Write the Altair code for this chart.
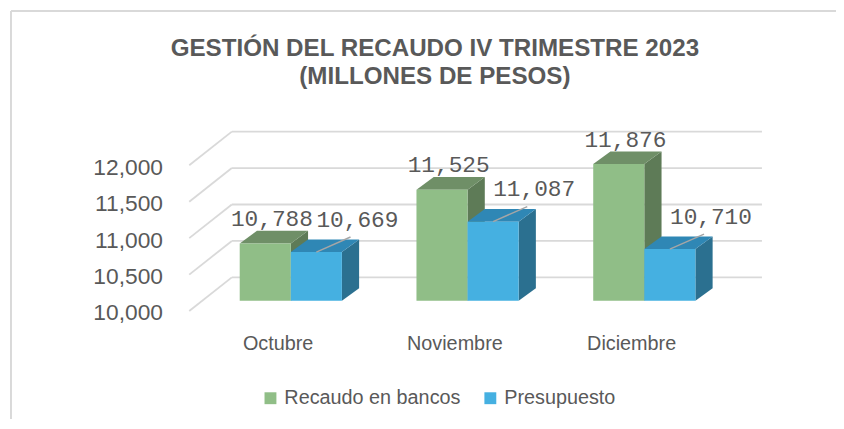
import json
import altair as alt
import pandas as pd

# ---------------- data ----------------
categories = ["Octubre", "Noviembre", "Diciembre"]
series = ["Recaudo en bancos", "Presupuesto"]
recaudo = [10788, 11525, 11876]
presupuesto = [10669, 11087, 10710]
y_ticks = [10000, 10500, 11000, 11500, 12000]
title_lines = ["GESTIÓN DEL RECAUDO IV TRIMESTRE 2023", "(MILLONES DE PESOS)"]

# ---------------- styles / geometry ----------------
W, H = 580, 184
PAD = {"left": 183, "top": 120, "right": 73, "bottom": 109}
X_DOM = [-0.5, 2.75]
Y_DOM = [10000, 12500]
PXU = W / (X_DOM[1] - X_DOM[0])
PXV = H / (Y_DOM[1] - Y_DOM[0])
BASE = 10000
BW = 0.289                      # bar width in category units
FRONT_DX, FRONT_DY = 13.3 / PXU, 10.3 / PXV   # bar front plane vs floor front
DEPTH_DX, DEPTH_DY = 17.4 / PXU, 12.7 / PXV   # bar depth
WALL_DX, WALL_DY = 43 / PXU, 34 / PXV         # back wall depth
LEAD_DX, LEAD_DY = 34.5 / PXU, 15.2 / PXV     # leader line
GRID_END = 2.74

G_FRONT, G_TOP, G_SIDE = "#90be87", "#6f8f67", "#5e7b57"
B_FRONT, B_TOP, B_SIDE = "#45b0e1", "#2f87b5", "#2b7090"
GRID = "#d9d9d9"
TXT = "#595959"

XS = alt.Scale(domain=X_DOM, nice=False, zero=False)
YS = alt.Scale(domain=Y_DOM, nice=False, zero=False)
label_expr = json.dumps(categories) + "[datum.value]"
AX = alt.Axis(values=[0, 1, 2], labelExpr=label_expr, title=None, ticks=False,
              domain=False, grid=False, labelFont="Liberation Sans",
              labelFontSize=20, labelColor=TXT, labelPadding=23)
AY = alt.Axis(values=y_ticks, labelExpr="format(datum.value, ',')", title=None,
              ticks=False, domain=False, grid=False, labelFont="Liberation Sans",
              labelFontSize=23, labelColor=TXT, labelPadding=27, labelOffset=2)


def X(f="x"):
    return alt.X(f"{f}:Q", scale=XS, axis=AX)


def Y(f="y"):
    return alt.Y(f"{f}:Q", scale=YS, axis=AY)


# ---------------- derived tables ----------------
front, side, top, lab_g, lab_b, lead = [], [], [], [], [], []
for i, cat in enumerate(categories):
    for k, (serie, vals) in enumerate(zip(series, [recaudo, presupuesto])):
        v = vals[i]
        xl = i - BW + k * BW + FRONT_DX
        xr = xl + BW
        yb = BASE + FRONT_DY
        yt = v + FRONT_DY
        fid = f"{cat}-{k}"
        front.append({"x": xl, "x2": xr, "y": yb, "y2": yt, "serie": serie})
        side.append({"f": fid, "serie": serie, "x": xr, "y": yt, "y2": yb})
        side.append({"f": fid, "serie": serie, "x": xr + DEPTH_DX,
                     "y": yt + DEPTH_DY, "y2": yb + DEPTH_DY})
        top.append({"f": fid, "serie": serie, "y": yt, "x": xl, "x2": xr})
        top.append({"f": fid, "serie": serie, "y": yt + DEPTH_DY,
                    "x": xl + DEPTH_DX, "x2": xr + DEPTH_DX})
        xc = (xl + xr) / 2
        if k == 0:
            lab_g.append({"x": xc + DEPTH_DX / 2, "y": yt + DEPTH_DY, "v": v})
        else:
            lab_b.append({"x": xc, "y": yt, "v": v})
            lead.append({"x": xc, "y": yt, "x2": xc + LEAD_DX, "y2": yt + LEAD_DY})

grid = []
for t in y_ticks:
    grid.append({"x": X_DOM[0], "y": t, "x2": X_DOM[0] + WALL_DX, "y2": t + WALL_DY})
    grid.append({"x": X_DOM[0] + WALL_DX, "y": t + WALL_DY, "x2": GRID_END, "y2": t + WALL_DY})

one = pd.DataFrame({"k": [0]})

# ---------------- layers ----------------
border_top = alt.Chart(one).mark_rule(color=GRID, strokeWidth=2).encode(
    x=alt.value(-PAD["left"] + 3), x2=alt.value(W + PAD["right"]),
    y=alt.value(-PAD["top"] + 1))
border_left = alt.Chart(one).mark_rule(color=GRID, strokeWidth=2).encode(
    x=alt.value(-PAD["left"] + 3), y=alt.value(-PAD["top"] + 1),
    y2=alt.value(H + PAD["bottom"]))

grid_l = alt.Chart(pd.DataFrame(grid)).mark_rule(color=GRID, strokeWidth=1.8).encode(
    x=X(), y=Y(), x2="x2:Q", y2="y2:Q")

side_l = alt.Chart(pd.DataFrame(side)).mark_area(orient="vertical").encode(
    x=X(), y=alt.Y("y:Q", scale=YS, axis=AY, stack=False), y2="y2:Q", detail="f:N",
    color=alt.condition(alt.datum.serie == series[0], alt.value(G_SIDE), alt.value(B_SIDE)))

top_l = alt.Chart(pd.DataFrame(top)).mark_area(orient="horizontal").encode(
    y=Y(), x=alt.X("x:Q", scale=XS, axis=AX, stack=False), x2="x2:Q", detail="f:N",
    color=alt.condition(alt.datum.serie == series[0], alt.value(G_TOP), alt.value(B_TOP)))

front_l = alt.Chart(pd.DataFrame(front)).mark_rect().encode(
    x=X(), x2="x2:Q", y=Y(), y2="y2:Q",
    color=alt.Color("serie:N", scale=alt.Scale(domain=series, range=[G_FRONT, B_FRONT]),
                    title=None,
                    legend=alt.Legend(orient="none", legendX=72, legendY=262,
                                      direction="horizontal", symbolType="square",
                                      symbolSize=144, symbolStrokeWidth=0,
                                      labelFont="Liberation Sans", labelFontSize=20,
                                      labelColor=TXT, labelOffset=4, columnPadding=20,
                                      labelLimit=400, padding=0, symbolOffset=0)))

lead_l = alt.Chart(pd.DataFrame(lead)).mark_rule(color="#a6a6a6", strokeWidth=1.5).encode(
    x=X(), y=Y(), x2="x2:Q", y2="y2:Q")

txt_kw = dict(font="Liberation Mono", fontSize=23, color="#595959",
              baseline="alphabetic", align="center")
lab_g_l = alt.Chart(pd.DataFrame(lab_g)).mark_text(dx=-2, dy=-5, **txt_kw).encode(
    x=X(), y=Y(), text=alt.Text("v:Q", format=","))
lab_b_l = alt.Chart(pd.DataFrame(lab_b)).mark_text(dx=41.5, dy=-25.7, **txt_kw).encode(
    x=X(), y=Y(), text=alt.Text("v:Q", format=","))

chart = alt.layer(
    border_top, border_left, grid_l, side_l, top_l, front_l, lead_l, lab_g_l, lab_b_l
).properties(
    width=W, height=H,
    padding=PAD,
    autosize=alt.AutoSizeParams(type="none"),
    title=alt.TitleParams(text=title_lines, font="Liberation Sans", fontSize=24.4,
                          fontWeight="bold", color=TXT, anchor="middle", frame="group",
                          dx=-42, offset=-99, baseline="alphabetic", lineHeight=28.5),
    background="white",
).configure_view(strokeWidth=0)

chart.save("out.html", embed_options={"renderer": "svg", "actions": False})
